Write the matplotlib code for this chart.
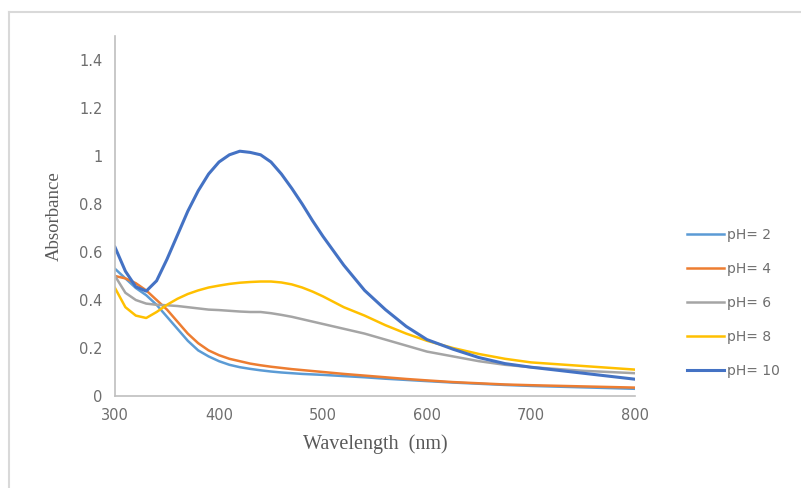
import matplotlib
matplotlib.use('Agg')
import matplotlib.pyplot as plt
from matplotlib.lines import Line2D

wavelength = [300, 310, 320, 330, 340, 350, 360, 370, 380, 390, 400, 410, 420, 430, 440,
              450, 460, 470, 480, 490, 500, 520, 540, 560, 580, 600, 625, 650, 675, 700,
              750, 800]

ph2 = [0.53, 0.49, 0.45, 0.42, 0.38, 0.33, 0.28, 0.23, 0.19, 0.165, 0.145, 0.13, 0.12,
       0.113, 0.107, 0.102, 0.098, 0.095, 0.092, 0.09, 0.088, 0.083, 0.078, 0.072, 0.067,
       0.062, 0.056, 0.051, 0.046, 0.042, 0.036, 0.03]
ph4 = [0.50, 0.49, 0.47, 0.44, 0.40, 0.36, 0.31, 0.26, 0.22, 0.19, 0.17, 0.155, 0.145,
       0.135, 0.128, 0.122, 0.117, 0.112, 0.108, 0.104, 0.10, 0.092, 0.085, 0.078, 0.071,
       0.065, 0.058, 0.053, 0.048, 0.045, 0.04, 0.035]
ph6 = [0.50, 0.43, 0.40, 0.385, 0.38, 0.378, 0.375, 0.37, 0.365, 0.36, 0.358, 0.355,
       0.352, 0.35, 0.35, 0.345, 0.338, 0.33, 0.32, 0.31, 0.30, 0.28, 0.26, 0.235, 0.21,
       0.185, 0.165, 0.145, 0.13, 0.12, 0.105, 0.095]
ph8 = [0.45, 0.37, 0.335, 0.325, 0.35, 0.38, 0.405, 0.425, 0.44, 0.452, 0.46, 0.467,
       0.472, 0.475, 0.477, 0.477, 0.473, 0.465, 0.452, 0.435, 0.415, 0.37, 0.335, 0.295,
       0.26, 0.23, 0.2, 0.175, 0.155, 0.14, 0.125, 0.11]
ph10 = [0.62, 0.52, 0.455, 0.437, 0.48, 0.57, 0.67, 0.77, 0.855, 0.925, 0.975, 1.005,
        1.02, 1.015, 1.005, 0.975, 0.925, 0.865, 0.80, 0.73, 0.665, 0.545, 0.44, 0.36, 0.29,
        0.235, 0.195, 0.16, 0.135, 0.12, 0.095, 0.07]

series = [('pH= 2', ph2, '#5B9BD5'), ('pH= 4', ph4, '#ED7D31'), ('pH= 6', ph6, '#A5A5A5'),
          ('pH= 8', ph8, '#FFC000'), ('pH= 10', ph10, '#4472C4')]

fig = plt.figure(figsize=(8.01, 4.88), dpi=100)
ax = fig.add_axes([115 / 801, 1 - 396 / 488, 520 / 801, 360 / 488])

for label, vals, color in series:
    lw = 2.2 if label == 'pH= 10' else 1.8
    ax.plot(wavelength, vals, color=color, linewidth=lw, label=label)

ax.set_xlim(300, 800)
ax.set_ylim(0, 1.5)
ax.set_xticks([300, 400, 500, 600, 700, 800])
ax.set_yticks([0, 0.2, 0.4, 0.6, 0.8, 1.0, 1.2, 1.4])
ax.set_yticklabels(['0', '0.2', '0.4', '0.6', '0.8', '1', '1.2', '1.4'])
ax.tick_params(length=0, labelsize=10.5, labelcolor='#6E6E6E', pad=9)
for s in ['top', 'right']:
    ax.spines[s].set_visible(False)
for s in ['left', 'bottom']:
    ax.spines[s].set_color('#BFBFBF')
    ax.spines[s].set_linewidth(1.2)

ax.set_xlabel('Wavelength  (nm)', family='Liberation Serif', fontsize=14.5,
              color='#595959', labelpad=8)
ax.set_ylabel('Absorbance', family='Liberation Serif', fontsize=13.5,
              color='#595959', labelpad=12)

ax.legend(loc='center left', bbox_to_anchor=(674 / 801, 1 - 303 / 488),
          bbox_transform=fig.transFigure, frameon=False, fontsize=10,
          labelcolor='#6E6E6E', handlelength=2.7, handletextpad=0.25,
          labelspacing=1.45)

# outer chart frame (top and left edges visible)
fig.add_artist(Line2D([9 / 801, 9 / 801], [0, 1 - 12 / 488], color='#D9D9D9', lw=1.5))
fig.add_artist(Line2D([9 / 801, 1], [1 - 12 / 488, 1 - 12 / 488], color='#D9D9D9', lw=1.5))

fig.savefig('out.png', dpi=100)
